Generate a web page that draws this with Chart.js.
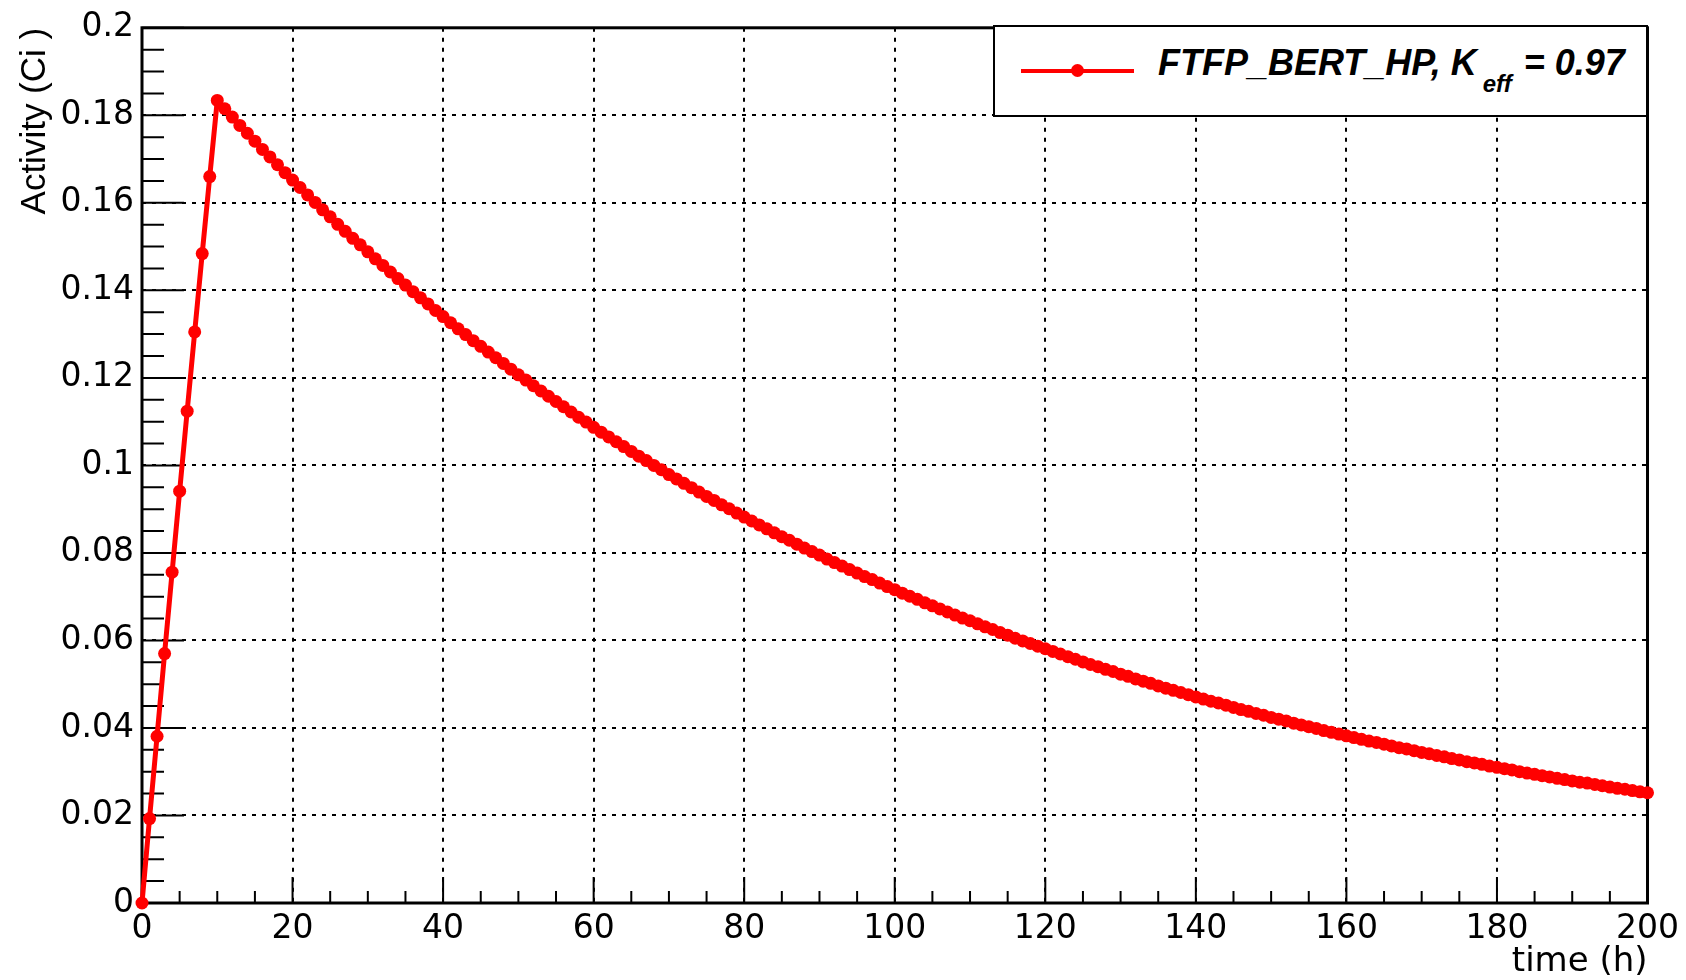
<!DOCTYPE html>
<html>
<head>
<meta charset="utf-8">
<script src="https://cdn.jsdelivr.net/npm/chart.js@4.4.1/dist/chart.umd.min.js"></script>
<style>
body{margin:0;background:#fff}
#wrap{position:relative;width:1686px;height:980px}
#legend{position:absolute;left:993px;top:25px;width:655px;height:92px;box-sizing:border-box;border:2px solid #000;background:#fff;font-family:"Liberation Sans",Arial,sans-serif;font-weight:bold;font-style:italic;color:#000}
#legend .line{position:absolute;left:26px;top:42px;width:113px;height:4px;background:#ff0000}
#legend .dot{position:absolute;left:76px;top:37px;width:13px;height:13px;border-radius:50%;background:#ff0000}
#legend .txt{position:absolute;left:163px;top:18px;font-size:36px;line-height:36px;white-space:nowrap}
#legend .sub{position:relative;top:17px;font-size:24px;margin-left:6px;margin-right:12px}
</style>
</head>
<body>
<div id="wrap">
<canvas id="chart" width="1686" height="980"></canvas>
<div id="legend"><div class="line"></div><div class="dot"></div><div class="txt" id="legendText"></div></div>
</div>
<script>
const xTitle="time (h)"
const yTitle="Activity (Ci )"
const seriesName="FTFP_BERT_HP, K"
const seriesSub="eff"
const seriesTail="= 0.97"

// one point per hour, 0 to 200 h
const hours=Array.from({length:201},(_,i)=>i)

const activity=[
0,0.0193,0.0381,0.0570,0.0756,0.0941,0.1124,0.1305,0.1484,0.1660,
0.1834,0.1815,0.1796,0.1777,0.1759,0.1741,0.1722,0.1705,0.1687,0.1669,
0.1652,0.1635,0.1618,0.1601,0.1584,0.1568,0.1551,0.1535,0.1519,0.1504,
0.1488,0.1472,0.1457,0.1442,0.1427,0.1412,0.1397,0.1383,0.1369,0.1354,
0.1340,0.1326,0.1312,0.1299,0.1285,0.1272,0.1259,0.1246,0.1233,0.1220,
0.1207,0.1195,0.1182,0.1170,0.1158,0.1146,0.1134,0.1122,0.1110,0.1099,
0.1087,0.1076,0.1065,0.1054,0.1043,0.1032,0.1021,0.1011,0.1000,0.0990,
0.0979,0.0969,0.0959,0.0949,0.0939,0.0929,0.0920,0.0910,0.0901,0.0891,
0.0882,0.0873,0.0864,0.0855,0.0846,0.0837,0.0829,0.0820,0.0811,0.0803,
0.0795,0.0786,0.0778,0.0770,0.0762,0.0754,0.0746,0.0739,0.0731,0.0723,
0.0716,0.0708,0.0701,0.0694,0.0686,0.0679,0.0672,0.0665,0.0658,0.0651,
0.0645,0.0638,0.0631,0.0625,0.0618,0.0612,0.0605,0.0599,0.0593,0.0587,
0.0581,0.0575,0.0569,0.0563,0.0557,0.0551,0.0545,0.0540,0.0534,0.0529,
0.0523,0.0518,0.0512,0.0507,0.0502,0.0496,0.0491,0.0486,0.0481,0.0476,
0.0471,0.0466,0.0461,0.0457,0.0452,0.0447,0.0442,0.0438,0.0433,0.0429,
0.0424,0.0420,0.0416,0.0411,0.0407,0.0403,0.0399,0.0394,0.0390,0.0386,
0.0382,0.0378,0.0374,0.0370,0.0367,0.0363,0.0359,0.0355,0.0352,0.0348,
0.0344,0.0341,0.0337,0.0334,0.0330,0.0327,0.0323,0.0320,0.0317,0.0313,
0.0310,0.0307,0.0304,0.0300,0.0297,0.0294,0.0291,0.0288,0.0285,0.0282,
0.0279,0.0276,0.0274,0.0271,0.0268,0.0265,0.0262,0.0260,0.0257,0.0254,
0.0252
]

const xMin=0,xMax=200,xStep=20,xMinor=5
const yMin=0,yMax=0.2,yStep=0.02,yMinor=0.005

document.getElementById("legendText").innerHTML=
seriesName+'<span class="sub">'+seriesSub+'</span>'+seriesTail

const points=hours.map((h,i)=>({x:h,y:activity[i]}))

// ROOT style: ticks inside the frame, frame on all four sides
const frame={
id:"frame",
beforeDatasetsDraw(chart){
const {ctx,chartArea:a,scales:{x,y}}=chart
ctx.save()
ctx.strokeStyle="#000"
ctx.lineWidth=2
ctx.beginPath()
let ny=Math.round((yMax-yMin)/yMinor)
for(let i=0;i<=ny;i++){
let py=y.getPixelForValue(yMin+i*yMinor)
let len=i%4==0?42:22
ctx.moveTo(a.left,py)
ctx.lineTo(a.left+len,py)
}
let nx=Math.round((xMax-xMin)/xMinor)
for(let i=0;i<=nx;i++){
let px=x.getPixelForValue(xMin+i*xMinor)
let len=i%4==0?26:12
ctx.moveTo(px,a.bottom)
ctx.lineTo(px,a.bottom-len)
}
ctx.stroke()
ctx.lineWidth=3
ctx.strokeRect(a.left,a.top,a.right-a.left,a.bottom-a.top)
ctx.restore()
}
}

const ctx=document.getElementById("chart").getContext("2d")

const chart=new Chart(ctx,{
type:"line",
data:{
datasets:[{
label:seriesName+seriesSub+" "+seriesTail,
data:points,
borderColor:"#ff0000",
backgroundColor:"#ff0000",
borderWidth:5,
pointRadius:6.5,
pointBorderWidth:0,
pointBackgroundColor:"#ff0000",
tension:0,
clip:false
}]
},
options:{
animation:false,
responsive:false,
devicePixelRatio:1,
layout:{padding:{top:25,right:38,left:0,bottom:0}},
plugins:{legend:{display:false},tooltip:{enabled:false}},
scales:{
x:{
type:"linear",
min:xMin,
max:xMax,
ticks:{stepSize:xStep,color:"#000",font:{family:"DejaVu Sans",size:33},padding:7,maxRotation:0,autoSkip:false},
grid:{color:"#000",lineWidth:2,drawTicks:false},
border:{display:false,dash:[4,6]},
title:{display:true,text:xTitle,align:"end",color:"#000",font:{family:"DejaVu Sans",size:34,lineHeight:1},padding:{top:0,bottom:1}},
afterFit(s){s.height=77}
},
y:{
type:"linear",
min:yMin,
max:yMax,
ticks:{stepSize:yStep,color:"#000",font:{family:"DejaVu Sans",size:33},padding:8,
callback:v=>String(+v.toFixed(2))},
grid:{color:"#000",lineWidth:2,drawTicks:false},
border:{display:false,dash:[4,6]},
title:{display:true,text:yTitle,align:"end",color:"#000",font:{family:"Liberation Sans",size:35,lineHeight:1},padding:{top:18,bottom:0}},
afterFit(s){s.width=142}
}
}
},
plugins:[frame]
})
</script>
</body>
</html>
